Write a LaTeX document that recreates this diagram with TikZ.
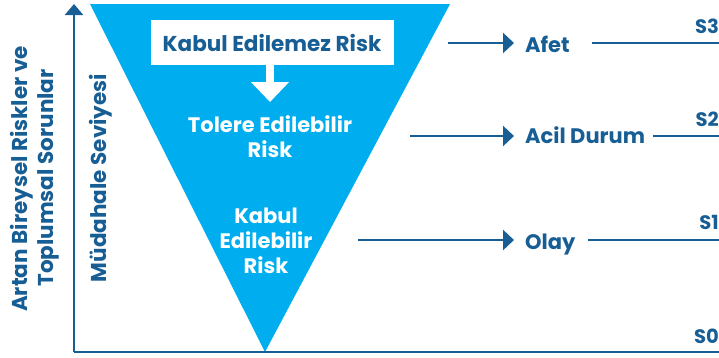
\documentclass[tikz,border=0pt]{standalone}
\usepackage{fontspec}
\setmainfont{Poppins}
\usetikzlibrary{arrows.meta,backgrounds}
\definecolor{riskdark}{HTML}{175E95}
\definecolor{riskcyan}{HTML}{00AEEF}
\newcommand{\linecolor}{riskdark}
\newcommand{\thickness}{2.6pt}
\newcommand{\lblfont}{\fontsize{21}{25}\selectfont\bfseries}

\begin{document}
\begin{tikzpicture}[x=1pt,y=-1pt,
  lbl/.style={text=\linecolor,font=\lblfont,inner sep=0pt,anchor=base west},
  slbl/.style={text=\linecolor,font=\fontsize{19.5}{20}\selectfont\bfseries,inner sep=0pt,anchor=base east},
  wlbl/.style={text=white,font=\lblfont,align=center,inner sep=0pt},
  rot/.style={text=\linecolor,font=\fontsize{21.5}{24}\selectfont\bfseries,inner sep=0pt,rotate=90,anchor=base},
  arr/.style={\linecolor,line width=\thickness,shorten >=11pt,-{Triangle[length=11pt,width=20pt]}},
  lvl/.style={\linecolor,line width=\thickness}]
\useasboundingbox (0,0) rectangle (719,357);
% axes
\coordinate (o) at (74,352);
\coordinate (top) at (74,4);
\coordinate (e0) at (719,352);
\draw[lvl,-{Triangle[length=11pt,width=18pt]}] (o) -- (top);
\draw[lvl] (o) -- (e0);
% risk triangle
\coordinate (tl) at (90,4);
\coordinate (tr) at (450,4);
\coordinate (tb) at (265,352);
\begin{scope}[on background layer]
\fill[riskcyan] (tl) -- (tr) -- (tb) -- cycle;
\end{scope}
\node[fill=white,minimum width=243pt,minimum height=45pt,text=\linecolor,font=\fontsize{21.5}{22}\selectfont\bfseries] (1) at (272,42.5) {Kabul Edilemez Risk};
\coordinate (d) at (270,102);
\draw[white,line width=8.5pt,-{Triangle[length=20pt,width=37pt]}] (d |- 1.south) -- (d);
\node[wlbl] (2) at (270,137) {Tolere Edilebilir\\Risk};
\node[wlbl] (3) at (266,241) {Kabul\\Edilebilir\\Risk};
% left labels
\node[rot] (ax1) at (27,179) {Artan Bireysel Riskler ve};
\node[rot] (ax2) at (53,178) {Toplumsal Sorunlar};
\node[rot] (ax3) at (106,178) {Müdahale Seviyesi};
% levels
\coordinate (a3) at (448,43);
\coordinate (a2) at (410,136);
\coordinate (a1) at (358,240);
\node[lbl] (afet) at (525,52) {Afet};
\node[lbl] (acil) at (525,143) {Acil Durum};
\node[lbl] (olay) at (525,249) {Olay};
\draw[arr] (a3) -- (a3 -| afet.west);
\draw[arr] (a2) -- (a2 -| acil.west);
\draw[arr] (a1) -- (a1 -| olay.west);
\coordinate (b3) at (592,43);
\coordinate (e3) at (719,43);
\coordinate (b2) at (653,136);
\coordinate (e2) at (719,136);
\coordinate (b1) at (588,240);
\coordinate (e1) at (719,240);
\draw[lvl] (b3) -- (e3);
\draw[lvl] (b2) -- (e2);
\draw[lvl] (b1) -- (e1);
\node[slbl] (s3) at ([yshift=10pt]e3) {S3};
\node[slbl] (s2) at ([yshift=10pt]e2) {S2};
\node[slbl] (s1) at ([yshift=11pt]e1) {S1};
\node[slbl] (s0) at ([yshift=9pt]e0) {S0};
\end{tikzpicture}
\end{document}
